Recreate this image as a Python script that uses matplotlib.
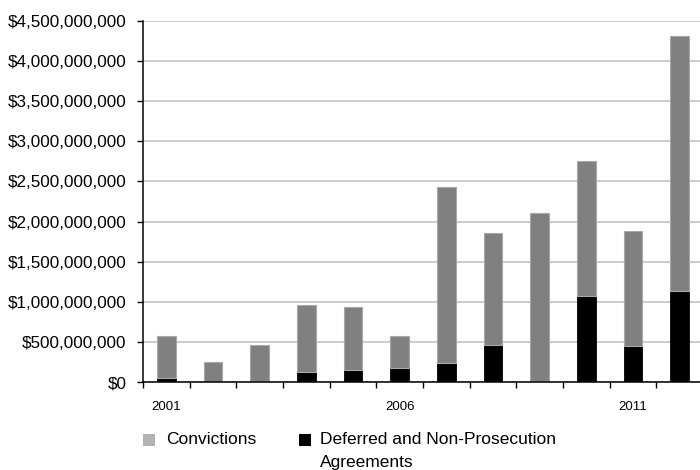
import matplotlib.pyplot as plt
from matplotlib.patches import Rectangle
from matplotlib.ticker import FuncFormatter, FixedLocator

plt.rcParams['font.family'] = ['Liberation Sans', 'DejaVu Sans']

years = [2001, 2002, 2003, 2004, 2005, 2006, 2007, 2008, 2009, 2010, 2011, 2012]
# amounts in dollars
deferred = [50e6, 0, 15e6, 130e6, 150e6, 175e6, 240e6, 460e6, 13e6, 1075e6, 446e6, 1140e6]
convictions = [520e6, 250e6, 440e6, 830e6, 780e6, 395e6, 2190e6, 1400e6, 2097e6, 1685e6, 1434e6, 3170e6]
year_labels = ['2001', '2006', '2011']

W, H = 700, 470
fig = plt.figure(figsize=(7, 4.7), dpi=100)
ax = fig.add_axes([143 / W, 1 - 382 / H, 560 / W, (382 - 21) / H])

x = list(range(len(years)))
ax.bar(x, deferred, width=0.4, color='black', edgecolor='black', linewidth=0.6, zorder=3)
ax.bar(x, convictions, width=0.4, bottom=deferred, color='#808080',
       edgecolor='#a8a8a8', linewidth=0.8, zorder=3)

ax.set_xlim(-0.5, len(years) - 0.5)
ax.set_ylim(0, 4.5e9)
ax.set_yticks([i * 5e8 for i in range(10)])
ax.yaxis.set_major_formatter(FuncFormatter(lambda v, p: '${:,.0f}'.format(v)))
ax.grid(axis='y', color='#c4c4c4', linewidth=1.2, zorder=0)

# year labels under every fifth bar, tick marks between categories
ax.set_xticks([years.index(int(y)) for y in year_labels])
ax.set_xticklabels(year_labels, fontsize=9.5)
ax.xaxis.set_minor_locator(FixedLocator([i - 0.5 for i in range(len(years) + 1)]))
ax.tick_params(axis='x', which='major', length=0, pad=14)
ax.tick_params(axis='x', which='minor', length=4, width=1, direction='out')
ax.tick_params(axis='y', length=4, width=1, pad=8, labelsize=12.3)

for s in ['top', 'right']:
    ax.spines[s].set_visible(False)
for s in ['left', 'bottom']:
    ax.spines[s].set_linewidth(1.1)
    ax.spines[s].set_zorder(4)

# legend drawn in figure pixels
def px(xp, yp):
    return xp / W, 1 - yp / H

fig.add_artist(Rectangle(px(143, 446), 12 / W, 12 / H, transform=fig.transFigure,
                         facecolor='#b3b3b3', edgecolor='none'))
fig.text(*px(166, 440), 'Convictions', fontsize=12.5, va='center', ha='left')
fig.add_artist(Rectangle(px(299, 446), 12 / W, 12 / H, transform=fig.transFigure,
                         facecolor='black', edgecolor='none'))
fig.text(*px(320, 440), 'Deferred and Non-Prosecution', fontsize=12.5, va='center', ha='left')
fig.text(*px(320, 462), 'Agreements', fontsize=12.5, va='center', ha='left')

fig.savefig('out.png', dpi=100)
